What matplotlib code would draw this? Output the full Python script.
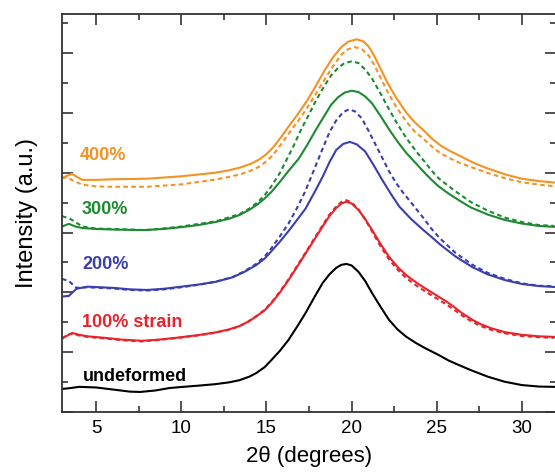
import matplotlib
matplotlib.use('Agg')  # headless
import matplotlib.pyplot as plt
from matplotlib.ticker import MultipleLocator

# 2theta (degrees) and stacked intensity (a.u.)

# undeformed
tt_undef = [3.0, 3.5, 4.0, 5.0, 6.0, 7.0, 7.6, 8.5, 9.3, 10.1, 11.0, 12.0, 12.8, 13.4, 14.0, 14.4,
            14.9, 15.3, 15.8, 16.3, 16.8, 17.3, 17.8, 18.3, 18.7, 19.1, 19.4, 19.7, 20.0, 20.4,
            20.8, 21.2, 21.7, 22.2, 22.7, 23.2, 23.8, 24.3, 25.1, 25.7, 26.3, 27.0, 28.0, 29.0,
            30.0, 31.0, 31.9]
i_undef = [0.77, 0.80, 0.84, 0.82, 0.75, 0.68, 0.67, 0.72, 0.80, 0.84, 0.88, 0.93, 0.99, 1.06, 1.18, 1.30,
           1.50, 1.74, 2.05, 2.41, 2.85, 3.31, 3.82, 4.31, 4.60, 4.82, 4.92, 4.95, 4.90, 4.69,
           4.38, 3.98, 3.52, 3.08, 2.76, 2.52, 2.30, 2.14, 1.91, 1.72, 1.57, 1.40, 1.18, 1.01,
           0.90, 0.85, 0.84]

# 100% strain
tt_100 = [3.0, 3.3, 3.6, 4.0, 4.5, 5.5, 6.5, 7.7, 8.7, 9.7, 11.0, 12.0, 12.8, 13.4, 13.9, 14.4,
          14.9, 15.3, 15.8, 16.3, 16.8, 17.3, 17.8, 18.3, 18.7, 19.1, 19.4, 19.7, 20.0, 20.4,
          20.8, 21.2, 21.7, 22.2, 22.7, 23.2, 23.8, 24.3, 24.9, 25.5, 26.0, 26.5, 27.1, 27.6,
          28.2, 29.0, 30.0, 31.0, 31.9]
i_100_solid = [2.47, 2.55, 2.64, 2.58, 2.53, 2.48, 2.42, 2.38, 2.42, 2.48, 2.57, 2.66, 2.76, 2.87, 3.01, 3.19,
               3.40, 3.64, 4.00, 4.41, 4.85, 5.30, 5.75, 6.20, 6.55, 6.82, 6.97, 7.03, 6.97, 6.76,
               6.45, 6.09, 5.62, 5.19, 4.85, 4.58, 4.33, 4.14, 3.93, 3.72, 3.52, 3.30, 3.08, 2.93,
               2.80, 2.67, 2.58, 2.53, 2.51]
i_100_dash = [2.44, 2.58, 2.62, 2.56, 2.51, 2.46, 2.40, 2.36, 2.41, 2.47, 2.56, 2.65, 2.75, 2.86, 3.01, 3.20,
              3.42, 3.66, 4.03, 4.44, 4.88, 5.33, 5.79, 6.24, 6.60, 6.87, 7.02, 7.08, 7.01, 6.78,
              6.44, 6.04, 5.54, 5.10, 4.76, 4.48, 4.23, 4.04, 3.83, 3.62, 3.43, 3.22, 3.01, 2.87,
              2.75, 2.63, 2.54, 2.50, 2.48]

# 200%
tt_200 = [3.0, 3.4, 3.85, 4.5, 6.0, 7.0, 8.0, 9.0, 10.0, 11.0, 12.0, 13.0, 13.7, 14.4, 14.9,
          15.3, 15.8, 16.3, 16.8, 17.3, 17.8, 18.3, 18.7, 19.1, 19.5, 19.9, 20.3, 20.8, 21.3,
          21.8, 22.3, 22.8, 23.5, 24.2, 24.7, 25.2, 26.1, 27.1, 28.0, 29.0, 30.0, 31.0, 31.9]
i_200_solid = [3.86, 3.88, 4.12, 4.19, 4.15, 4.10, 4.08, 4.12, 4.19, 4.26, 4.35, 4.50, 4.68, 4.91, 5.13,
               5.38, 5.70, 6.05, 6.42, 6.80, 7.32, 7.86, 8.35, 8.76, 8.96, 9.03, 8.95, 8.71, 8.25,
               7.76, 7.30, 6.87, 6.45, 6.09, 5.85, 5.60, 5.20, 4.84, 4.60, 4.41, 4.28, 4.21, 4.18]
tt_200d = [3.0, 3.4, 3.85, 4.5, 6.0, 7.0, 8.0, 9.0, 10.0, 11.0, 12.0, 13.0, 13.7, 14.4, 14.9,
           15.3, 15.8, 16.3, 16.8, 17.3, 17.8, 18.3, 18.7, 19.1, 19.5, 19.85, 20.2, 20.6, 21.0,
           21.4, 21.8, 22.2, 22.6, 23.0, 23.5, 24.2, 24.7, 25.2, 26.1, 27.1, 28.0, 29.0, 30.0,
           31.0, 31.9]
i_200_dash = [4.45, 4.38, 4.15, 4.17, 4.13, 4.08, 4.06, 4.10, 4.17, 4.25, 4.35, 4.51, 4.70, 4.95, 5.20,
              5.48, 5.88, 6.30, 6.82, 7.40, 8.10, 8.80, 9.35, 9.75, 10.02, 10.12, 10.05, 9.82, 9.40,
              8.95, 8.50, 8.05, 7.67, 7.35, 7.00, 6.50, 6.12, 5.80, 5.32, 4.92, 4.65, 4.45, 4.30,
              4.22, 4.20]

# 300%
tt_300 = [3.0, 3.4, 3.8, 4.2, 5.0, 6.0, 7.7, 9.0, 10.0, 11.0, 12.0, 12.8, 13.4, 14.0, 14.5,
          14.9, 15.3, 15.8, 16.3, 16.9, 17.4, 17.9, 18.4, 18.8, 19.2, 19.6, 20.0, 20.4, 20.8,
          21.2, 21.7, 22.2, 22.7, 23.2, 23.8, 24.3, 24.7, 25.1, 25.7, 26.3, 27.0, 28.0, 29.0,
          30.0, 31.0, 31.9]
i_300_solid = [6.20, 6.29, 6.20, 6.15, 6.12, 6.10, 6.08, 6.12, 6.18, 6.25, 6.35, 6.46, 6.58, 6.76, 6.95,
               7.14, 7.36, 7.70, 8.06, 8.47, 8.93, 9.43, 9.90, 10.27, 10.52, 10.68, 10.74, 10.70, 10.55,
               10.32, 9.90, 9.45, 9.04, 8.67, 8.30, 7.99, 7.76, 7.55, 7.30, 7.08, 6.84, 6.60, 6.42,
               6.30, 6.22, 6.19]
tt_300d = [3.0, 3.5, 4.2, 5.0, 6.0, 8.0, 10.0, 12.0, 13.4, 14.0, 14.5, 14.9, 15.3, 15.8, 16.2,
           16.6, 17.0, 17.5, 17.9, 18.4, 18.8, 19.2, 19.6, 20.0, 20.4, 20.8, 21.2, 21.7, 22.2,
           22.7, 23.2, 23.8, 24.3, 24.7, 25.1, 25.7, 26.3, 27.0, 28.0, 29.0, 30.0, 31.0, 31.9]
i_300_dash = [6.55, 6.45, 6.20, 6.13, 6.12, 6.08, 6.20, 6.37, 6.61, 6.80, 7.02, 7.25, 7.55, 8.00, 8.45,
              8.90, 9.40, 9.95, 10.40, 10.90, 11.25, 11.50, 11.67, 11.72, 11.67, 11.45, 11.15, 10.65, 10.12,
              9.62, 9.17, 8.71, 8.36, 8.07, 7.82, 7.55, 7.30, 7.02, 6.73, 6.50, 6.35, 6.25, 6.22]

# 400%
tt_400 = [3.0, 3.3, 3.6, 3.9, 4.2, 5.0, 6.0, 8.0, 10.0, 11.0, 12.0, 12.8, 13.5, 14.1, 14.6,
          15.0, 15.4, 15.9, 16.4, 16.9, 17.4, 17.9, 18.4, 18.9, 19.4, 19.8, 20.3, 20.7, 21.0,
          21.3, 21.7, 22.1, 22.6, 23.2, 23.7, 24.3, 24.7, 25.2, 25.7, 26.3, 27.2, 28.0, 29.1,
          30.0, 31.0, 31.9]
i_400_solid = [7.82, 7.90, 7.96, 7.85, 7.76, 7.76, 7.78, 7.80, 7.88, 7.94, 8.00, 8.08, 8.18, 8.30, 8.45,
               8.62, 8.85, 9.22, 9.62, 10.00, 10.42, 10.90, 11.40, 11.85, 12.20, 12.38, 12.46, 12.39, 12.22,
               11.94, 11.48, 11.02, 10.52, 10.02, 9.69, 9.38, 9.15, 8.92, 8.75, 8.58, 8.32, 8.14, 7.93,
               7.80, 7.72, 7.67]
tt_400d = [3.0, 3.3, 3.6, 4.2, 5.0, 6.0, 8.0, 10.0, 11.0, 12.0, 12.8, 13.5, 14.1, 14.6, 15.0,
           15.4, 15.9, 16.4, 16.9, 17.4, 17.9, 18.4, 18.9, 19.4, 19.8, 20.2, 20.6, 21.0, 21.3,
           21.7, 22.1, 22.6, 23.2, 23.7, 24.3, 24.7, 25.2, 25.7, 26.3, 27.2, 28.0, 29.1, 30.0,
           31.0, 31.9]
i_400_dash = [7.82, 7.85, 7.75, 7.60, 7.54, 7.53, 7.53, 7.61, 7.69, 7.77, 7.86, 7.95, 8.07, 8.21, 8.38,
              8.60, 8.98, 9.38, 9.76, 10.17, 10.63, 11.10, 11.55, 11.95, 12.13, 12.20, 12.13, 11.92, 11.64,
              11.18, 10.72, 10.22, 9.72, 9.38, 9.09, 8.88, 8.66, 8.50, 8.34, 8.15, 7.99, 7.80, 7.68,
              7.60, 7.55]

labels = ['undeformed', '100% strain', '200%', '300%', '400%']
colors = ['black', '#e8232b', '#3b3fae', '#1d8a32', '#f39325']
label_xy = [(4.2, 1.2), (4.15, 3.0), (4.2, 4.92), (4.15, 6.76), (4.05, 8.56)]

plt.rcParams['font.family'] = ['Liberation Sans', 'DejaVu Sans']

fig = plt.figure(figsize=(5.55, 4.73), dpi=100)
ax = fig.add_axes([0.1117, 0.129, 0.890, 0.841])

series = [
    (tt_undef, i_undef, None, None),
    (tt_100, i_100_solid, tt_100, i_100_dash),
    (tt_200, i_200_solid, tt_200d, i_200_dash),
    (tt_300, i_300_solid, tt_300d, i_300_dash),
    (tt_400, i_400_solid, tt_400d, i_400_dash),
]
for (tt, solid, ttd, dash), c in zip(series, colors):
    if dash is not None:
        ax.plot(ttd, dash, color=c, lw=1.5, linestyle=(0, (2.2, 1.6)))
    ax.plot(tt, solid, color=c, lw=1.5)

for lab, (x, y), c in zip(labels, label_xy, colors):
    ax.text(x, y, lab, color=c, fontsize=13, fontweight='bold', va='center', ha='left')

ax.set_xlim(3, 32)
ax.set_ylim(0, 13.3)
ax.xaxis.set_major_locator(MultipleLocator(5))
ax.xaxis.set_minor_locator(MultipleLocator(2.5))
ax.yaxis.set_major_locator(MultipleLocator(2))
ax.yaxis.set_minor_locator(MultipleLocator(1))
ax.tick_params(which='both', direction='in', top=True, right=True, width=1.2, color='#333333')
ax.tick_params(which='major', length=8)
ax.tick_params(which='minor', length=4.5)
ax.tick_params(axis='x', labelsize=13.5, pad=6)
ax.tick_params(axis='y', labelleft=False)
for s in ax.spines.values():
    s.set_linewidth(1.3)
    s.set_color('#333333')

ax.set_xlabel('2θ (degrees)', fontsize=16, labelpad=6)
ax.set_ylabel('Intensity (a.u.)', fontsize=17, labelpad=14)

fig.savefig('out.png', dpi=100)
plt.close(fig)
